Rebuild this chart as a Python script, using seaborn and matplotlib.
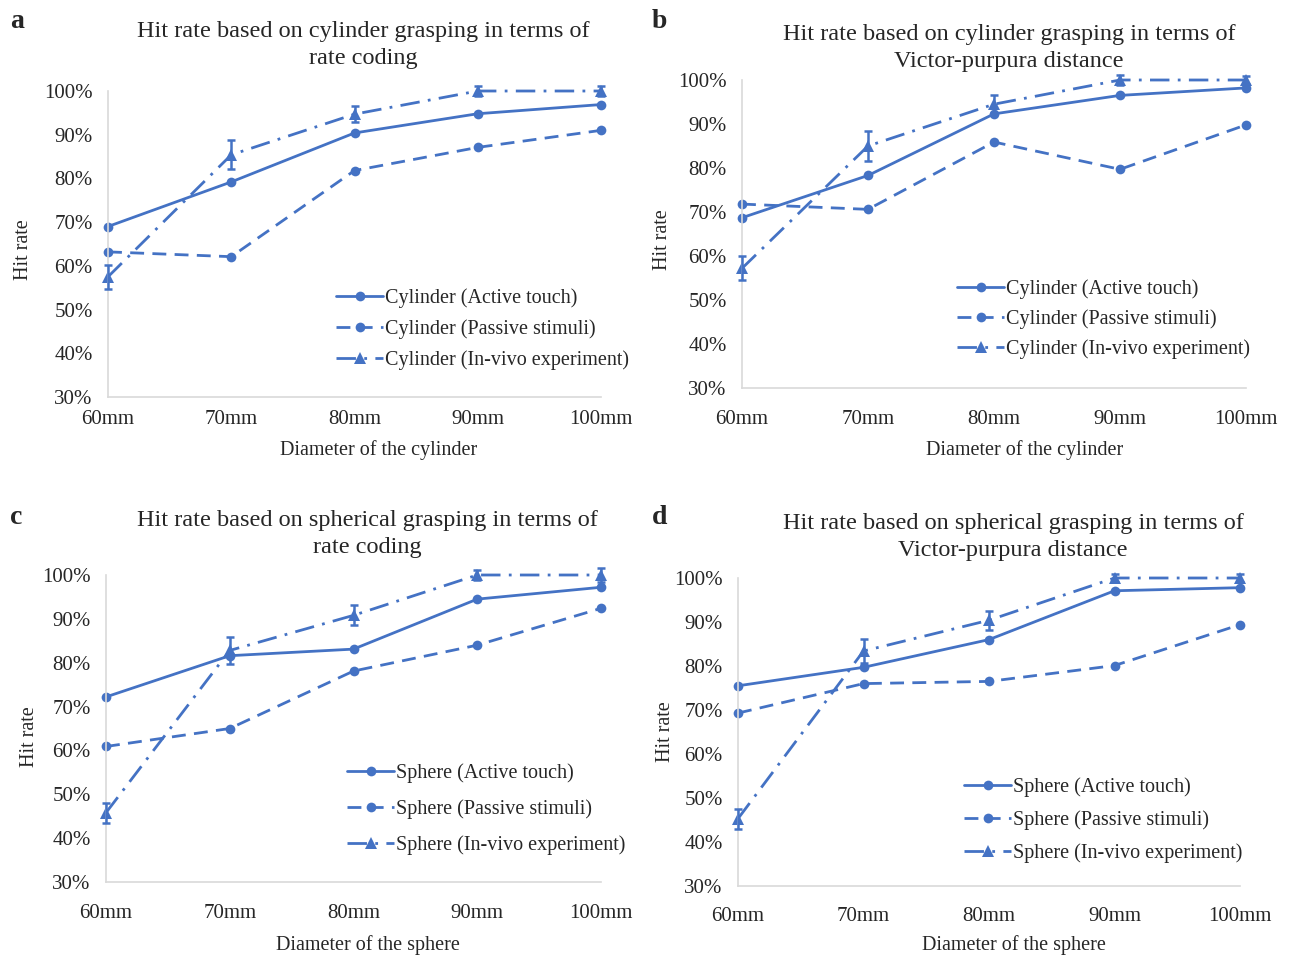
import numpy as np
import pandas as pd
import matplotlib
matplotlib.use("Agg")
import matplotlib.pyplot as plt
from matplotlib.lines import Line2D
import seaborn as sns

# ---------------- data ----------------
diameters = ["60mm", "70mm", "80mm", "90mm", "100mm"]
yticks = [30, 40, 50, 60, 70, 80, 90, 100]

a_active = [69.0, 79.2, 90.4, 94.8, 96.9]
a_passive = [63.2, 62.1, 81.8, 87.1, 91.0]
a_invivo = [57.5, 85.4, 94.7, 100.0, 100.0]
a_invivo_err = [2.7, 3.3, 1.8, 1.2, 1.2]

b_active = [68.7, 78.3, 92.3, 96.5, 98.2]
b_passive = [71.8, 70.6, 85.9, 79.7, 89.8]
b_invivo = [57.2, 85.0, 94.5, 100.0, 100.0]
b_invivo_err = [2.7, 3.3, 2.0, 1.2, 1.0]

c_active = [72.2, 81.6, 83.1, 94.5, 97.2]
c_passive = [60.9, 65.0, 78.1, 84.0, 92.4]
c_invivo = [45.8, 82.8, 90.8, 100.0, 100.0]
c_invivo_err = [2.3, 3.0, 2.3, 1.2, 1.5]

d_active = [75.5, 79.7, 86.0, 97.1, 97.8]
d_passive = [69.3, 76.0, 76.5, 80.1, 89.4]
d_invivo = [45.3, 83.4, 90.4, 100.0, 100.0]
d_invivo_err = [2.3, 2.8, 2.2, 1.0, 1.0]

cyl_labels = ["Cylinder (Active touch)", "Cylinder (Passive stimuli)", "Cylinder (In-vivo experiment)"]
sph_labels = ["Sphere (Active touch)", "Sphere (Passive stimuli)", "Sphere (In-vivo experiment)"]

titles = [
    "Hit rate based on cylinder grasping in terms of\nrate coding",
    "Hit rate based on cylinder grasping in terms of\nVictor-purpura distance",
    "Hit rate based on spherical grasping in terms of\nrate coding",
    "Hit rate based on spherical grasping in terms of\nVictor-purpura distance",
]
xlabels = ["Diameter of the cylinder", "Diameter of the cylinder",
           "Diameter of the sphere", "Diameter of the sphere"]
letters = ["a", "b", "c", "d"]

# ---------------- style ----------------
sns.set_theme(style="white")
plt.rcParams["font.family"] = ["Liberation Serif", "DejaVu Serif"]

BLUE = "#4472C4"
SPINE = "#D9D9D9"
W, H = 1297, 956
fig = plt.figure(figsize=(W / 100, H / 100), dpi=100)

def fx(px):
    return px / W

def fy(py):
    return 1 - py / H

# axes boxes in pixels: left, right, top(100%), bottom(30%)
boxes = [
    (108, 601, 91, 397),
    (742, 1246, 80, 388),
    (106, 601, 575, 882),
    (738, 1240, 578, 886),
]
xpads = [9, 16, 16, 15]
title_pos = [(363, 45), (1009, 48), (367, 534), (1013, 537)]
xlabel_pos = [(379, 450), (1025, 450), (368, 945), (1014, 945)]
ylabel_pos = [(24, 250), (662, 240), (30, 737), (666, 732)]
letter_pos = [(10, 22), (652, 22), (10, 517), (652, 517)]
legend_pos = [(336, 329, 0.55), (957, 319, 0.5), (347, 809, 0.8), (964, 820, 0.66)]

panels = [
    (a_active, a_passive, a_invivo, a_invivo_err, cyl_labels),
    (b_active, b_passive, b_invivo, b_invivo_err, cyl_labels),
    (c_active, c_passive, c_invivo, c_invivo_err, sph_labels),
    (d_active, d_passive, d_invivo, d_invivo_err, sph_labels),
]

dash_passive = (5, 3)
dash_invivo = (7, 3, 1, 3)
x = np.arange(len(diameters))
TICK_FS = 15
LEG_FS = 14.5
LAB_FS = 14.5

for i, (act, pas, inv, err, labels) in enumerate(panels):
    l, r, t, b = boxes[i]
    ax = fig.add_axes([fx(l), fy(b), fx(r) - fx(l), fy(t) - fy(b)])
    df = pd.DataFrame({"x": x, "active": act, "passive": pas, "invivo": inv})

    sns.lineplot(data=df, x="x", y="active", ax=ax, color=BLUE, lw=2.0,
                 marker="o", markersize=7, markeredgewidth=0, clip_on=False)
    sns.lineplot(data=df, x="x", y="passive", ax=ax, color=BLUE, lw=2.0,
                 marker="o", markersize=7, markeredgewidth=0, clip_on=False,
                 dashes=False, linestyle=(0, dash_passive))
    sns.lineplot(data=df, x="x", y="invivo", ax=ax, color=BLUE, lw=2.0,
                 marker="^", markersize=8, markeredgewidth=0, clip_on=False,
                 dashes=False, linestyle=(0, dash_invivo))
    ax.errorbar(x, inv, yerr=err, fmt="none", ecolor=BLUE, elinewidth=1.8,
                capsize=3.2, capthick=1.8, clip_on=False, zorder=5)

    ax.set_xlim(0, 4)
    ax.set_ylim(30, 100)
    ax.set_xticks(x)
    ax.set_xticklabels(diameters, fontsize=TICK_FS)
    ax.set_yticks(yticks)
    ax.set_yticklabels([f"{v}%" for v in yticks], fontsize=TICK_FS)
    ax.tick_params(axis="both", length=0)
    ax.tick_params(axis="x", pad=xpads[i])
    ax.tick_params(axis="y", pad=11)
    ax.set_xlabel("")
    ax.set_ylabel("")
    for s in ["top", "right"]:
        ax.spines[s].set_visible(False)
    for s in ["left", "bottom"]:
        ax.spines[s].set_color(SPINE)
        ax.spines[s].set_linewidth(1.2)
    ax.set_facecolor("none")
    ax.grid(False)

    handles = [
        Line2D([], [], color=BLUE, lw=2.0, marker="o", markersize=7, markeredgewidth=0),
        Line2D([], [], color=BLUE, lw=2.0, marker="o", markersize=7, markeredgewidth=0,
               linestyle=(0, dash_passive)),
        Line2D([], [], color=BLUE, lw=2.0, marker="^", markersize=8, markeredgewidth=0,
               linestyle=(0, dash_invivo)),
    ]
    lx, ly, lsp = legend_pos[i]
    ax.legend(handles, labels, loc="center left", bbox_to_anchor=(fx(lx), fy(ly)),
              bbox_transform=fig.transFigure, frameon=False, fontsize=LEG_FS,
              handlelength=2.35, handletextpad=0.1, labelspacing=lsp,
              borderpad=0, borderaxespad=0, numpoints=1)

    tx, ty = title_pos[i]
    fig.text(fx(tx), fy(ty), titles[i], ha="center", va="center", fontsize=17.5,
             linespacing=1.36)
    xx, xy = xlabel_pos[i]
    fig.text(fx(xx), fy(xy), xlabels[i], ha="center", va="center", fontsize=LAB_FS)
    yx, yy = ylabel_pos[i]
    fig.text(fx(yx), fy(yy), "Hit rate", ha="center", va="center", fontsize=LAB_FS,
             rotation=90)
    px, py = letter_pos[i]
    fig.text(fx(px), fy(py), letters[i], ha="left", va="center", fontsize=20,
             fontweight="bold")

fig.savefig("out.png", dpi=100, facecolor="white")
